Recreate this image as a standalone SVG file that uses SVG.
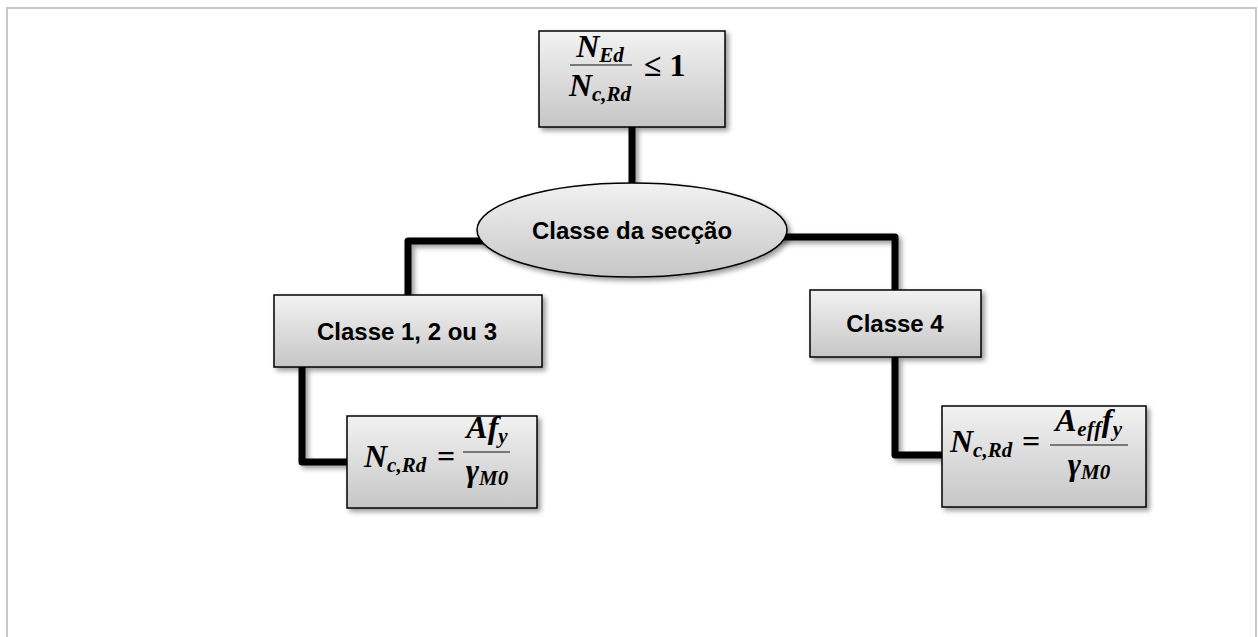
<svg xmlns="http://www.w3.org/2000/svg" width="1258" height="637" viewBox="0 0 1258 637">
<defs>
<linearGradient id="g" x1="0" y1="0" x2="0" y2="1">
<stop offset="0" stop-color="#f2f2f2"/>
<stop offset="1" stop-color="#c6c6c6"/>
</linearGradient>
<filter id="sh" filterUnits="userSpaceOnUse" x="0" y="0" width="1258" height="637">
<feDropShadow dx="3" dy="3" stdDeviation="2.5" flood-color="#000" flood-opacity="0.4"/>
</filter>
</defs>
<style>
.node{fill:url(#g);stroke:#000;stroke-width:1.5;filter:url(#sh)}
.conn{fill:none;stroke:#000;stroke-width:7;stroke-linejoin:round;stroke-linecap:butt;filter:url(#sh)}
.lbl{font-family:"Liberation Sans",Arial,sans-serif;font-weight:bold;font-size:24px;fill:#000;text-anchor:middle}
.m{font-family:"Liberation Serif","Times New Roman",serif;font-weight:bold;font-style:italic;font-size:32px;fill:#000;font-variant-ligatures:none}
.s{font-size:21px}
.up{font-style:normal}
.fr{stroke:#555;stroke-width:1.5}
</style>
<rect x="0" y="0" width="1258" height="637" fill="#fff"/>
<path d="M7 637 V8 H1256 V637" fill="none" stroke="#c8c8c8" stroke-width="2"/>
<g id="connectors">
<path class="conn" d="M632 127 V190"/>
<path class="conn" d="M500 241 H408 V295"/>
<path class="conn" d="M760 237 H895 V290"/>
<path class="conn" d="M302 367 V462 H347"/>
<path class="conn" d="M895 357 V455 H942"/>
</g>
<g id="n_top">
<rect class="node" x="539" y="31" width="186" height="96"/>
<text class="m" x="600" y="57" text-anchor="middle">N<tspan class="s" dy="5">Ed</tspan></text>
<line class="fr" x1="570" y1="65" x2="632" y2="65"/>
<text class="m" x="600" y="96" text-anchor="middle">N<tspan class="s" dy="5">c,Rd</tspan></text>
<text class="m up" x="644" y="76" font-size="34">≤ 1</text>
</g>
<g id="n_classe">
<ellipse class="node" cx="632" cy="230" rx="155" ry="47"/>
<text class="lbl" x="632" y="239">Classe da secção</text>
</g>
<g id="n_c123">
<rect class="node" x="274" y="295" width="268" height="72"/>
<text class="lbl" x="407" y="340">Classe 1, 2 ou 3</text>
</g>
<g id="n_c4">
<rect class="node" x="810" y="290" width="171" height="67"/>
<text class="lbl" x="895" y="332">Classe 4</text>
</g>
<g id="n_f1">
<rect class="node" x="347" y="416" width="190" height="92"/>
<text class="m" x="364" y="467">N<tspan class="s" dy="5">c,Rd</tspan></text>
<text class="m up" x="437" y="467" font-size="34">=</text>
<text class="m" x="487" y="438" text-anchor="middle">Af<tspan class="s" dy="5">y</tspan></text>
<line class="fr" x1="463" y1="452" x2="510" y2="452"/>
<text class="m" x="487" y="481" text-anchor="middle">γ<tspan class="s" dy="4">M0</tspan></text>
</g>
<g id="n_f4">
<rect class="node" x="942" y="406" width="204" height="101"/>
<text class="m" x="950" y="452">N<tspan class="s" dy="5">c,Rd</tspan></text>
<text class="m up" x="1022" y="452" font-size="34">=</text>
<text class="m" x="1089" y="431" text-anchor="middle" letter-spacing="0.5">A<tspan class="s" dy="5">eff</tspan><tspan dy="-5">f</tspan><tspan class="s" dy="5">y</tspan></text>
<line class="fr" x1="1050" y1="445" x2="1128" y2="445"/>
<text class="m" x="1089" y="475" text-anchor="middle">γ<tspan class="s" dy="4">M0</tspan></text>
</g>
</svg>
